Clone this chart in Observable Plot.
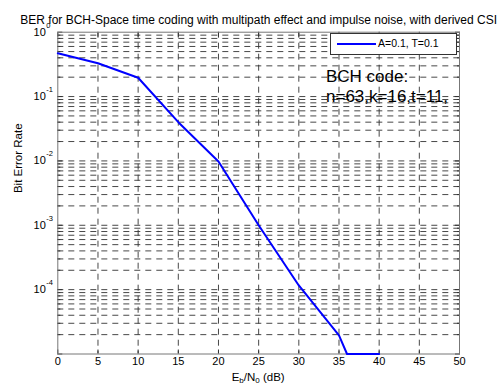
<!DOCTYPE html>
<html>
<head>
<meta charset="utf-8">
<script src="https://cdn.jsdelivr.net/npm/d3@7"></script>
<script src="https://cdn.jsdelivr.net/npm/@observablehq/plot@0.6"></script>
<style>
  html, body { margin: 0; padding: 0; background: #fff; }
  #wrap { position: relative; width: 501px; height: 386px; font-family: "Liberation Sans", Arial, sans-serif; }
  #legend { position: absolute; left: 330px; top: 33px; width: 125px; height: 20px; border: 1px solid #333; background: #fff; }
  #legend .swatch { position: absolute; left: 6px; top: 9px; width: 39px; height: 0; border-top: 2px solid #0000ff; }
  #legend .lab { position: absolute; left: 47px; top: 3px; font-size: 10.5px; color: #000; white-space: nowrap; }
  .note { position: absolute; left: 326px; font-size: 17px; color: #000; white-space: nowrap; line-height: 1; }
</style>
</head>
<body>
<div id="wrap"></div>
<script>
// ---- data ----
const ebn0 = [0, 5, 10, 15, 20, 25, 30, 35, 36, 40];
const ber  = [0.47, 0.33, 0.196, 0.040, 0.0098, 0.00100, 0.000116, 0.0000195, 0.00001, 0.00001];
const xTicks = [0, 5, 10, 15, 20, 25, 30, 35, 40, 45, 50];
const yDecadeExps = [0, -1, -2, -3, -4];
const titleText = "BER for BCH-Space time coding with multipath effect and impulse noise, with derived CSI";
const yLabelText = "Bit Error Rate";
const legendText = "A=0.1, T=0.1";
const noteLines = ["BCH code:", "n=63,k=16,t=11,"];

const rows = ebn0.map((x, i) => ({x, y: ber[i]}));
const yGrid = [];
for (let e = -5; e <= -1; e++) for (let m = 1; m <= 9; m++) yGrid.push(m * 10 ** e);
const yGridInner = yGrid.filter(v => v > 1e-5 * 1.0001);
const yMajor = [1e-5, 1e-4, 1e-3, 1e-2, 1e-1, 1];
const yMinor = yGrid.filter(v => !yMajor.some(m => Math.abs(m - v) / v < 1e-6));

const chart = Plot.plot({
  width: 501,
  height: 386,
  marginTop: 31.7,
  marginBottom: 32.5,
  marginLeft: 57.3,
  marginRight: 42,
  style: {fontFamily: "'Liberation Sans', Arial, sans-serif", fontSize: "11px", background: "transparent", color: "#000"},
  x: {domain: [0, 50], axis: null},
  y: {type: "log", domain: [1e-5, 1], axis: null},
  marks: [
    Plot.ruleY(yGridInner, {stroke: "#333", strokeWidth: 0.9, strokeDasharray: "6,5"}),
    Plot.ruleX(xTicks.slice(1, -1), {stroke: "#333", strokeWidth: 0.9, strokeDasharray: "6,5"}),
    Plot.axisX({ticks: xTicks, tickSize: -4, tickFormat: () => "", label: null, stroke: "#333"}),
    Plot.axisX({anchor: "top", ticks: xTicks, tickSize: -4, tickFormat: () => "", label: null, stroke: "#333"}),
    Plot.axisY({ticks: yMajor, tickSize: -5, tickFormat: () => "", label: null, stroke: "#333"}),
    Plot.axisY({ticks: yMinor, tickSize: -3, tickFormat: () => "", label: null, stroke: "#333"}),
    Plot.axisY({anchor: "right", ticks: yMajor, tickSize: -5, tickFormat: () => "", label: null, stroke: "#333"}),
    Plot.axisY({anchor: "right", ticks: yMinor, tickSize: -3, tickFormat: () => "", label: null, stroke: "#333"}),
    Plot.frame({stroke: "#777", strokeWidth: 1}),
    Plot.line(rows, {x: "x", y: "y", stroke: "#0000ff", strokeWidth: 2}),
    // x tick labels
    Plot.text(xTicks, {x: d => d, frameAnchor: "bottom", dy: 11, text: d => String(d), fill: "#000"}),
    // y tick labels: "10" + exponent
    Plot.text(yDecadeExps, {x: 0, y: d => 10 ** d, text: () => "10", textAnchor: "end", dx: -12, fill: "#000"}),
    Plot.text(yDecadeExps, {x: 0, y: d => 10 ** d, text: d => String(d), textAnchor: "start", dx: -11.5, dy: -7, fontSize: 7.5, fill: "#000"}),
    // title
    Plot.text([titleText], {frameAnchor: "top", dy: -17, text: d => d, fill: "#000", fontSize: 12}),
    // y label
    Plot.text([yLabelText], {frameAnchor: "left", dx: -39, rotate: -90, text: d => d, fill: "#000", fontSize: 11.5})
  ]
});

const wrap = document.getElementById("wrap");
wrap.appendChild(chart);

// x-axis label with subscripts
const svg = d3.select(chart);
const xs = chart.scale("x");
const xMid = (xs.range[0] + xs.range[1]) / 2;
const t = svg.append("text")
  .attr("x", xMid).attr("y", 380.5)
  .attr("text-anchor", "middle")
  .attr("font-family", "'Liberation Sans', Arial, sans-serif")
  .attr("font-size", 11.5)
  .attr("fill", "#000");
t.append("tspan").text("E");
t.append("tspan").attr("dy", 2.5).attr("font-size", 8).text("b");
t.append("tspan").attr("dy", -2.5).text("/N");
t.append("tspan").attr("dy", 2.5).attr("font-size", 8).text("0");
t.append("tspan").attr("dy", -2.5).text(" (dB)");

// legend
const lg = document.createElement("div");
lg.id = "legend";
lg.innerHTML = '<div class="swatch"></div><div class="lab"></div>';
lg.querySelector(".lab").textContent = legendText;
wrap.appendChild(lg);

// annotation
noteLines.forEach((s, i) => {
  const d = document.createElement("div");
  d.className = "note";
  d.style.top = (68 + i * 19.5) + "px";
  d.textContent = s;
  wrap.appendChild(d);
});
</script>
</body>
</html>
